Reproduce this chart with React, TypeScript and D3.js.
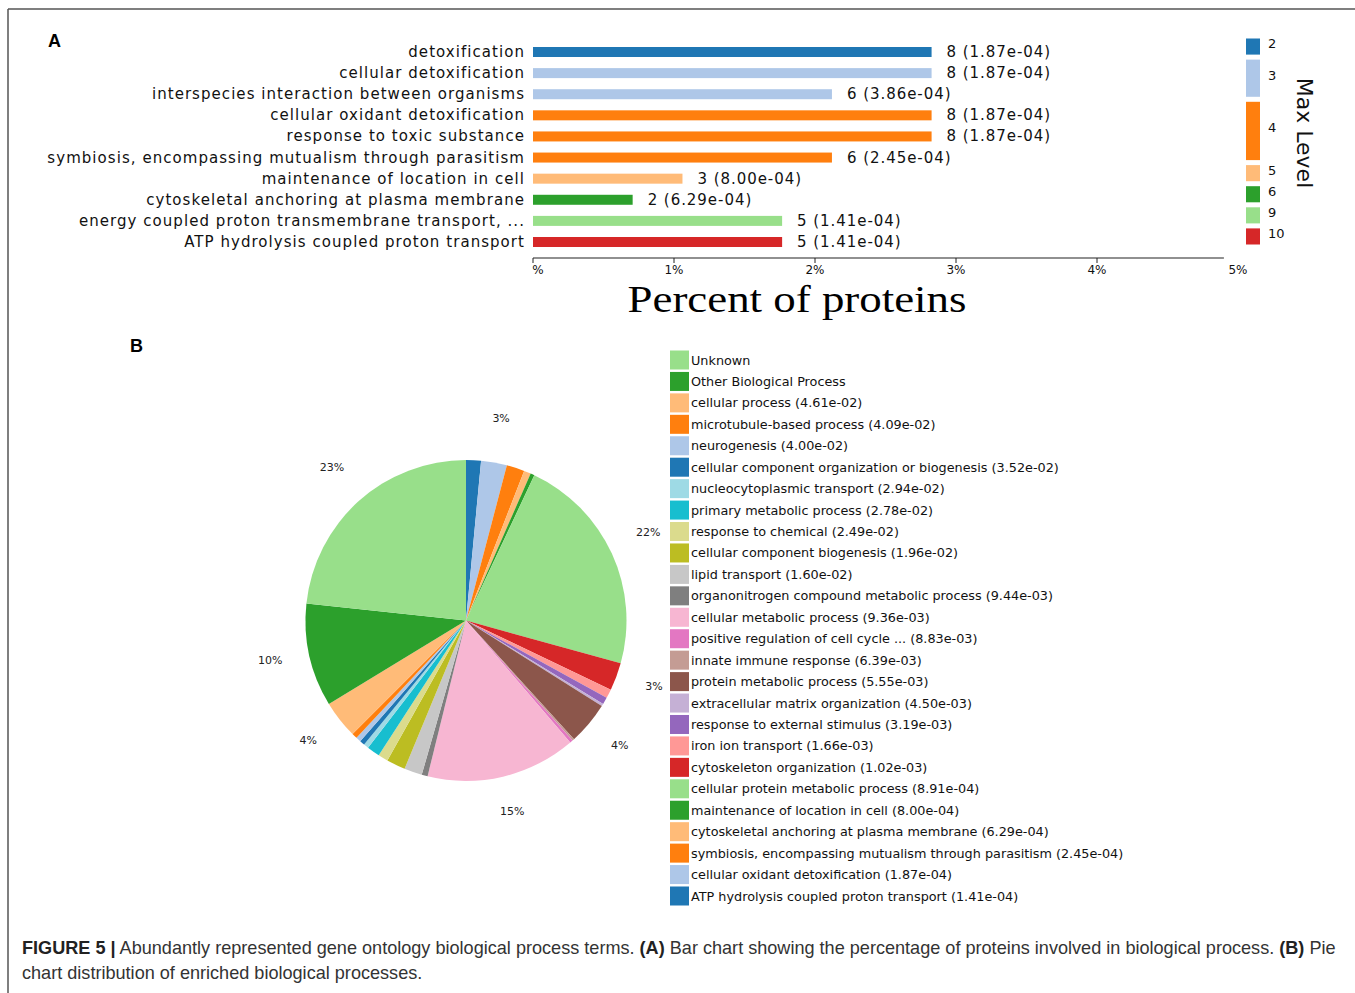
import React, { useEffect } from "react";
import * as d3 from "d3";

// ---------- Data: panel A (bar chart) ----------
const barTerms = [
  "detoxification",
  "cellular detoxification",
  "interspecies interaction between organisms",
  "cellular oxidant detoxification",
  "response to toxic substance",
  "symbiosis, encompassing mutualism through parasitism",
  "maintenance of location in cell",
  "cytoskeletal anchoring at plasma membrane",
  "energy coupled proton transmembrane transport, ...",
  "ATP hydrolysis coupled proton transport",
];
const barCounts = [8, 8, 6, 8, 8, 6, 3, 2, 5, 5];
const barPValues = [
  "1.87e-04", "1.87e-04", "3.86e-04", "1.87e-04", "1.87e-04",
  "2.45e-04", "8.00e-04", "6.29e-04", "1.41e-04", "1.41e-04",
];
const barLevels = [2, 3, 3, 4, 4, 4, 5, 6, 9, 10];
const totalProteins = 283;
const xTicks = [0, 1, 2, 3, 4, 5];
const xTickLabels = ["%", "1%", "2%", "3%", "4%", "5%"];
const levelKeys = [2, 3, 4, 5, 6, 9, 10];
const levelColors = ["#1f77b4", "#aec7e8", "#ff7f0e", "#ffbb78", "#2ca02c", "#98df8a", "#d62728"];

// ---------- Data: panel B (pie chart), clockwise from 12 o'clock ----------
const pieTerms = [
  "ATP hydrolysis coupled proton transport",
  "cellular oxidant detoxification",
  "symbiosis, encompassing mutualism through parasitism",
  "cytoskeletal anchoring at plasma membrane",
  "maintenance of location in cell",
  "cellular protein metabolic process",
  "cytoskeleton organization",
  "iron ion transport",
  "response to external stimulus",
  "extracellular matrix organization",
  "protein metabolic process",
  "innate immune response",
  "positive regulation of cell cycle ...",
  "cellular metabolic process",
  "organonitrogen compound metabolic process",
  "lipid transport",
  "cellular component biogenesis",
  "response to chemical",
  "primary metabolic process",
  "nucleocytoplasmic transport",
  "cellular component organization or biogenesis",
  "neurogenesis",
  "microtubule-based process",
  "cellular process",
  "Other Biological Process",
  "Unknown",
];
const piePValues = [
  "1.41e-04", "1.87e-04", "2.45e-04", "6.29e-04", "8.00e-04", "8.91e-04",
  "1.02e-03", "1.66e-03", "3.19e-03", "4.50e-03", "5.55e-03", "6.39e-03",
  "8.83e-03", "9.36e-03", "9.44e-03", "1.60e-02", "1.96e-02", "2.49e-02",
  "2.78e-02", "2.94e-02", "3.52e-02", "4.00e-02", "4.09e-02", "4.61e-02",
  "", "",
];
const pieShares = [
  1.5, 2.6, 1.8, 0.7, 0.4, 22.3, 2.8, 0.9, 0.7, 0.25, 4.3, 0.2, 0.3, 15.1,
  0.6, 1.8, 1.9, 1.0, 1.3, 0.5, 0.5, 0.5, 0.55, 3.8, 10.4, 23.3,
];
const tab20 = [
  "#1f77b4", "#aec7e8", "#ff7f0e", "#ffbb78", "#2ca02c", "#98df8a", "#d62728", "#ff9896",
  "#9467bd", "#c5b0d5", "#8c564b", "#c49c94", "#e377c2", "#f7b6d2", "#7f7f7f", "#c7c7c7",
  "#bcbd22", "#dbdb8d", "#17becf", "#9edae5",
];

const captionLine1Rest =
  " Abundantly represented gene ontology biological process terms. ";
const captionLine1Mid = " Bar chart showing the percentage of proteins involved in biological process. ";

const SANS = "'DejaVu Sans', sans-serif";

export default function App() {
  useEffect(() => {
    document.body.style.margin = "0";
    document.body.style.overflow = "hidden";
  }, []);

  const W = 1355;
  const H = 993;

  // Bar chart scales
  const x = d3.scaleLinear().domain([0, 5]).range([533, 1238]);
  const y = d3.scalePoint<string>().domain(barTerms).range([52, 242]);
  const levelColor = d3.scaleOrdinal<number, string>().domain(levelKeys).range(levelColors);
  const barH = 10;

  // Level legend
  const levelCounts = levelKeys.map((k) => barLevels.filter((l) => l === k).length);
  const legScale = d3.scaleLinear().domain([0, barLevels.length]).range([36, 247]);
  let cum = 0;
  const levelSegs = levelKeys.map((k, i) => {
    const s = { key: k, y0: legScale(cum) + 2.5, y1: legScale(cum + levelCounts[i]) - 2.5 };
    cum += levelCounts[i];
    return s;
  });

  // Pie
  const cx = 466;
  const cy = 620.5;
  const r = 160.5;
  const pie = d3.pie<number>().sort(null).value((d) => d)(pieShares);
  const arc = d3.arc<d3.PieArcDatum<number>>().innerRadius(0).outerRadius(r);
  const total = d3.sum(pieShares);
  const labelR = r * 1.25;

  const legendOrder = d3.range(pieTerms.length).reverse();
  const legY = d3.scaleLinear().domain([0, pieTerms.length - 1]).range([360, 896]);

  return (
    <svg width={W} height={H} viewBox={`0 0 ${W} ${H}`} style={{ display: "block", background: "#fff" }}>
      {/* frame */}
      <line x1={8} y1={9} x2={W} y2={9} stroke="#555" strokeWidth={1.5} />
      <line x1={8} y1={9} x2={8} y2={H} stroke="#555" strokeWidth={1.5} />

      {/* Panel letters */}
      <text x={48} y={47} fontFamily="'Liberation Sans', Arial, sans-serif" fontWeight="bold" fontSize={18}>A</text>
      <text x={130} y={352} fontFamily="'Liberation Sans', Arial, sans-serif" fontWeight="bold" fontSize={18}>B</text>

      {/* Bars */}
      <g fontFamily={SANS} fontSize={15} fill="#111">
        {barTerms.map((t, i) => {
          const pct = (barCounts[i] / totalProteins) * 100;
          const yc = y(t)!;
          return (
            <g key={t}>
              <text x={525} y={yc} textAnchor="end" dominantBaseline="central" letterSpacing={1.05}>
                {t}
              </text>
              <rect x={x(0)} y={yc - barH / 2} width={x(pct) - x(0)} height={barH} fill={levelColor(barLevels[i])} />
              <text x={x(pct) + 15} y={yc} dominantBaseline="central" letterSpacing={0.95}>
                {`${barCounts[i]} (${barPValues[i]})`}
              </text>
            </g>
          );
        })}
      </g>

      {/* X axis */}
      <g fontFamily={SANS} fontSize={12} fill="#111">
        <line x1={x(0)} y1={258} x2={x(4.9)} y2={258} stroke="#222" strokeWidth={1.2} />
        {xTicks.map((v, i) => (
          <g key={v}>
            {v < 4.9 && <line x1={x(v)} y1={258} x2={x(v)} y2={263} stroke="#222" strokeWidth={1} />}
            <text x={x(v) + (v === 0 ? 5 : 0)} y={274} textAnchor="middle">{xTickLabels[i]}</text>
          </g>
        ))}
        <text
          x={797}
          y={312}
          textAnchor="middle"
          fontFamily="'Liberation Serif', 'Times New Roman', serif"
          fontSize={37}
          textLength={339}
          lengthAdjust="spacingAndGlyphs"
          fill="#000"
        >
          Percent of proteins
        </text>
      </g>

      {/* Max Level legend */}
      <g fontFamily={SANS}>
        {levelSegs.map((s) => (
          <g key={s.key}>
            <rect x={1246} y={s.y0} width={14} height={s.y1 - s.y0} fill={levelColor(s.key)} />
            <text x={1268} y={(s.y0 + s.y1) / 2 - 3} dominantBaseline="central" fontSize={13} fill="#111">
              {s.key}
            </text>
          </g>
        ))}
        <text
          transform="translate(1304,133) rotate(90)"
          textAnchor="middle"
          dominantBaseline="central"
          fontSize={22}
          fill="#111"
        >
          Max Level
        </text>
      </g>

      {/* Pie */}
      <g transform={`translate(${cx},${cy})`}>
        {pie.map((d, i) => (
          <path key={i} d={arc(d)!} fill={tab20[i % 20]} />
        ))}
        {pie.map((d, i) => {
          const pct = (d.value / total) * 100;
          if (pct < 2.5) return null;
          const a = (d.startAngle + d.endAngle) / 2;
          return (
            <text
              key={"l" + i}
              x={Math.sin(a) * labelR}
              y={-Math.cos(a) * labelR - 4}
              textAnchor="middle"
              dominantBaseline="central"
              fontFamily={SANS}
              fontSize={11}
              fill="#222"
            >
              {`${Math.round(pct)}%`}
            </text>
          );
        })}
      </g>

      {/* Pie legend */}
      <g fontFamily={SANS} fontSize={12.8} fill="#111">
        {legendOrder.map((idx, row) => {
          const yc = legY(row);
          const label = piePValues[idx] ? `${pieTerms[idx]} (${piePValues[idx]})` : pieTerms[idx];
          return (
            <g key={idx}>
              <rect x={670} y={yc - 9.5} width={19} height={19} fill={tab20[idx % 20]} />
              <text x={691} y={yc} dominantBaseline="central">{label}</text>
            </g>
          );
        })}
      </g>

      {/* Caption */}
      <g fontFamily="'Liberation Sans', Arial, sans-serif" fontSize={18.1} fill="#333">
        <text x={22} y={954}>
          <tspan fontWeight="bold" fill="#222">FIGURE 5 |</tspan>
          <tspan>{captionLine1Rest}</tspan>
          <tspan fontWeight="bold" fill="#222">(A)</tspan>
          <tspan>{captionLine1Mid}</tspan>
          <tspan fontWeight="bold" fill="#222">(B)</tspan>
          <tspan> Pie</tspan>
        </text>
        <text x={22} y={979}>chart distribution of enriched biological processes.</text>
      </g>
    </svg>
  );
}
